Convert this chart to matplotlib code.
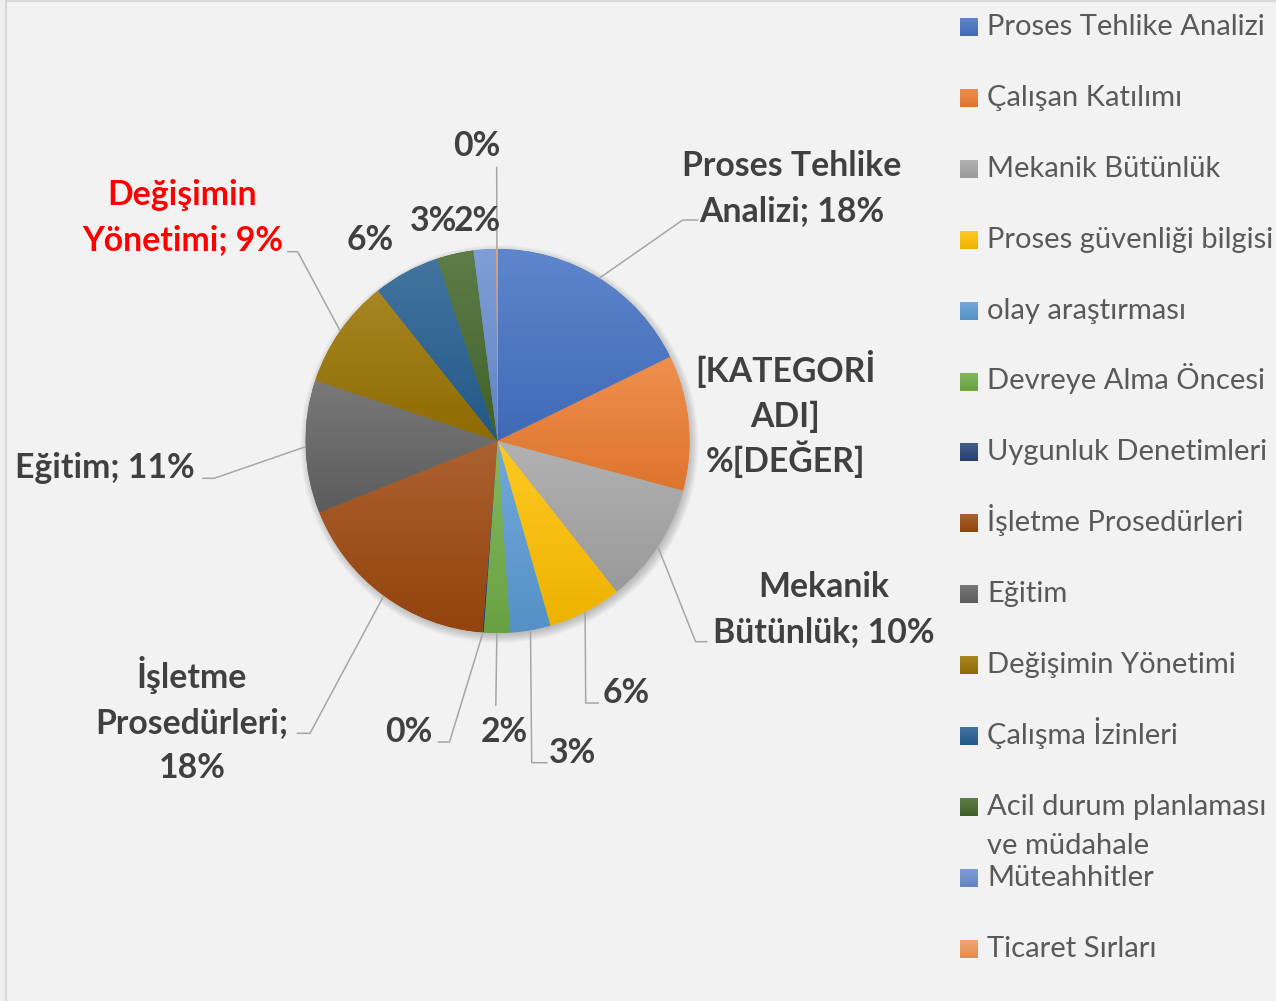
import matplotlib
matplotlib.use("Agg")
import matplotlib.pyplot as plt
import numpy as np
from matplotlib.patches import Circle, Rectangle
from matplotlib.colors import to_rgb

# ---------------- data ----------------
categories = ["Proses Tehlike Analizi", "Çalışan Katılımı", "Mekanik Bütünlük",
              "Proses güvenliği bilgisi", "olay araştırması", "Devreye Alma Öncesi",
              "Uygunluk Denetimleri", "İşletme Prosedürleri", "Eğitim",
              "Değişimin Yönetimi", "Çalışma İzinleri",
              "Acil durum planlaması ve müdahale", "Müteahhitler", "Ticaret Sırları"]
values = [17.8, 11.4, 10.2, 6.2, 3.4, 2.2, 0.1, 17.7, 11.2, 9.2, 5.6, 3.1, 1.9, 0.1]
colors = ["#4472C4", "#ED7D31", "#A5A5A5", "#FFC000", "#5B9BD5", "#70AD47",
          "#264478", "#9E480E", "#636363", "#997300", "#255E91", "#43682B",
          "#698ED0", "#F1975A"]
label_templates = ["Proses Tehlike\nAnalizi; {p}", "[KATEGORİ\nADI]\n%[DEĞER]",
                   "Mekanik\nBütünlük; {p}", "{p}", "{p}", "{p}", "{p}",
                   "İşletme\nProsedürleri;\n{p}", "Eğitim; {p}",
                   "Değişimin\nYönetimi; {p}", "{p}", "{p}", "{p}", "{p}"]
legend_labels = ["Proses Tehlike Analizi", "Çalışan Katılımı", "Mekanik Bütünlük",
                 "Proses güvenliği bilgisi", "olay araştırması", "Devreye Alma Öncesi",
                 "Uygunluk Denetimleri", "İşletme Prosedürleri", "Eğitim",
                 "Değişimin Yönetimi", "Çalışma İzinleri",
                 "Acil durum planlaması\nve müdahale", "Müteahhitler", "Ticaret Sırları"]
label_colors = ["#404040"] * 9 + ["#FF0000"] + ["#404040"] * 4

# ---------------- layout (pixel coordinates) ----------------
W, H = 1276, 1001
CX, CY, R = 497.5, 441.0, 192.0
# (x centre, baseline of first line)
label_pos = [(792, 176.5), (785.5, 382), (824, 597), (626, 703), (572, 763),
             (504, 742), (409, 742), (192, 688), (104.5, 478), (182.5, 205),
             (370, 250), (433, 231), (477.5, 231), (477, 156)]
leaders = [[(682.7, 220), (698.3, 220)], None, [(695.6, 641.7), (707.4, 641.7)],
           [(585.7, 703), (599, 703)], [(531.7, 762.7), (547.6, 762.7)],
           [(495.8, 706)], [(449.5, 742), (437.7, 742)],
           [(310, 733.3), (296.7, 733.3)], [(214.3, 478.3), (202.3, 478.3)],
           [(297.7, 251.7), (287.3, 251.7)], None, None, None,
           [(496.7, 166.7)]]
LINE_PITCH = 45
LEG_X, LEG_Y0, LEG_DY, LEG_SQ = 960, 27, 70.9, 18
LEG_PITCH = 39

BG = "#F2F2F2"
fig = plt.figure(figsize=(W / 100, H / 100), dpi=100, facecolor=BG)
ax = fig.add_axes([0, 0, 1, 1])
ax.set_facecolor(BG)

# chart border hints
ax.add_patch(Rectangle((0, 0), 6, H, facecolor="#EEEEEE", edgecolor="none", zorder=0))
ax.plot([6, 6], [0, H], color="#D9D9D9", lw=1.5, zorder=0.5)
ax.plot([6, W], [1, 1], color="#D9D9D9", lw=1.5, zorder=0.5)

# soft shadow
for k in range(10):
    ax.add_patch(Circle((CX + 2, CY + 3), R - 2 + k, facecolor="black",
                        edgecolor="none", alpha=0.022, zorder=1))

total = sum(values)
wedges, _ = ax.pie(values, colors=colors, startangle=-90, counterclock=True,
                   center=(CX, CY), radius=R,
                   wedgeprops=dict(linewidth=0, zorder=2))


def mix(c, t, f):
    return tuple(np.array(c) * (1 - f) + np.array(t) * f)


def gradient(c, n=64):
    base = to_rgb(c)
    top = mix(base, (1, 1, 1), 0.14)
    bot = mix(base, (0, 0, 0), 0.07)
    t = np.linspace(0, 1, n)[:, None, None]
    return np.array(top)[None, None, :] * (1 - t) + np.array(bot)[None, None, :] * t


for w, c in zip(wedges, colors):
    w.set_zorder(2)
    ext = w.get_path().get_extents()
    if ext.width < 0.5:
        continue
    im = ax.imshow(gradient(c), extent=(ext.x0, ext.x1, ext.y1, ext.y0), origin="upper",
                   interpolation="bilinear", aspect="auto", zorder=3)
    im.set_clip_path(w)

# labels
LFONT = dict(family="Lato", weight="bold", size=24.3)
for i, (w, tmpl) in enumerate(zip(wedges, label_templates)):
    pct = "{:d}%".format(int(round(values[i] / total * 100)))
    text = tmpl.format(p=pct)
    x, y = label_pos[i]
    for j, line in enumerate(text.split("\n")):
        ax.text(x, y + j * LINE_PITCH, line, ha="center", va="baseline",
                color=label_colors[i], zorder=6, **LFONT)
    if leaders[i] is not None:
        mid = np.deg2rad((w.theta1 + w.theta2) / 2)
        pts = [(CX + R * np.cos(mid), CY + R * np.sin(mid))] + leaders[i]
        xs, ys = zip(*pts)
        ax.plot(xs, ys, color="#A6A6A6", lw=1.1, zorder=5, solid_capstyle="butt")

# legend
for i, (lab, c) in enumerate(zip(legend_labels, colors)):
    yc = LEG_Y0 + i * LEG_DY
    sq = Rectangle((LEG_X, yc - LEG_SQ / 2), LEG_SQ, LEG_SQ,
                   facecolor=c, edgecolor="none", zorder=4)
    ax.add_patch(sq)
    im = ax.imshow(gradient(c), extent=(LEG_X, LEG_X + LEG_SQ, yc + LEG_SQ / 2, yc - LEG_SQ / 2),
                   origin="upper", interpolation="bilinear", aspect="auto", zorder=4.5)
    im.set_clip_path(sq)
    for j, line in enumerate(lab.split("\n")):
        ax.text(LEG_X + 27, yc + 8 + j * LEG_PITCH, line, ha="left", va="baseline",
                color="#595959", family="Lato", size=21, zorder=6)

ax.set_xlim(0, W)
ax.set_ylim(H, 0)
ax.set_aspect("auto")
ax.axis("off")
fig.savefig("out.png", dpi=100, facecolor=BG)
